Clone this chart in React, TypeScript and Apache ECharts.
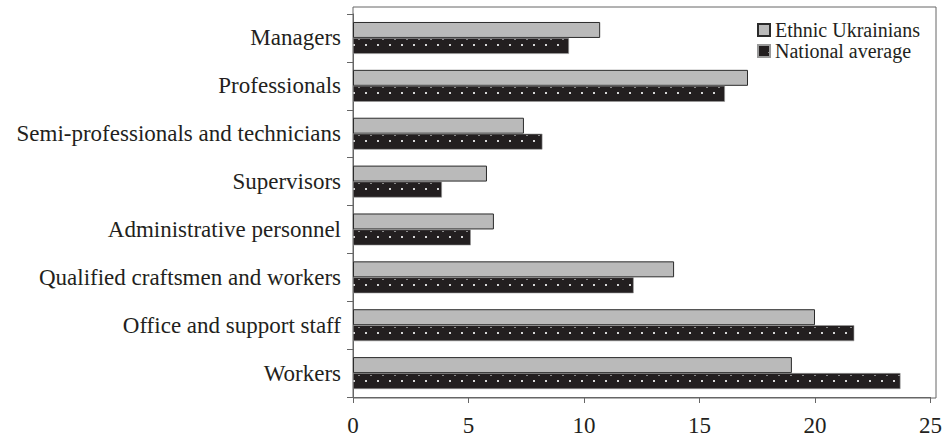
import React, { useEffect, useRef } from "react";
import * as echarts from "echarts";

const categories = [
  "Managers",
  "Professionals",
  "Semi-professionals and technicians",
  "Supervisors",
  "Administrative personnel",
  "Qualified craftsmen and workers",
  "Office and support staff",
  "Workers",
];
const seriesNames = ["Ethnic Ukrainians", "National average"];
const ethnicUkrainians = [10.7, 17.1, 7.4, 5.8, 6.1, 13.9, 20.0, 19.0];
const nationalAverage = [9.35, 16.1, 8.2, 3.85, 5.1, 12.15, 21.7, 23.7];
const xTicks = [0, 5, 10, 15, 20, 25];

const FONT = "'Liberation Serif', 'Times New Roman', serif";

function makeDots(): HTMLCanvasElement {
  const c = document.createElement("canvas");
  c.width = 12;
  c.height = 16;
  const ctx = c.getContext("2d")!;
  ctx.fillStyle = "#231f20";
  ctx.fillRect(0, 0, 12, 16);
  ctx.fillStyle = "#d6d6d6";
  ctx.fillRect(5, 12, 2, 2);
  ctx.fillStyle = "#8a8a8a";
  ctx.fillRect(10, 7, 2, 1);
  return c;
}

export default function App() {
  const ref = useRef<HTMLDivElement>(null);
  useEffect(() => {
    if (!ref.current) return;
    const chart = echarts.init(ref.current, null, { renderer: "svg" });
    const dots = makeDots();
    const pattern: any = {
      image: dots,
      repeat: "repeat",
      imageWidth: 12,
      imageHeight: 16,
    };
    chart.setOption({
      animation: false,
      backgroundColor: "#ffffff",
      grid: { left: 353, top: 14, width: 583, height: 384, containLabel: false },
      legend: {
        orient: "vertical",
        left: 757,
        top: 20,
        padding: 0,
        itemWidth: 12,
        itemHeight: 12,
        itemGap: 1,
        textStyle: { fontFamily: FONT, fontSize: 20, color: "#231f20", lineHeight: 20 },
        data: [
          { name: seriesNames[0], icon: "rect" },
          { name: seriesNames[1], icon: "rect" },
        ],
      },
      xAxis: {
        type: "value",
        min: xTicks[0],
        max: xTicks[xTicks.length - 1],
        interval: xTicks[1] - xTicks[0],
        splitLine: { show: false },
        axisLine: { show: true, lineStyle: { color: "#666", width: 1 } },
        axisTick: { show: true, inside: false, length: 6, lineStyle: { color: "#666" } },
        axisLabel: { fontFamily: FONT, fontSize: 23, color: "#231f20", margin: 17 },
      },
      yAxis: {
        type: "category",
        inverse: true,
        data: categories,
        axisLine: { show: true, lineStyle: { color: "#666", width: 1 } },
        axisTick: { show: true, inside: false, length: 6, lineStyle: { color: "#666" } },
        axisLabel: { fontFamily: FONT, fontSize: 23, color: "#231f20", margin: 12 },
      },
      graphic: [
        {
          type: "rect",
          shape: { x: 353, y: 7, width: 583, height: 391 },
          style: { fill: "none", stroke: "#666", lineWidth: 1 },
          silent: true,
          z: 0,
        },
      ],
      series: [
        {
          name: seriesNames[0],
          type: "bar",
          data: ethnicUkrainians,
          barCategoryGap: "33.33%",
          barGap: "0%",
          itemStyle: { color: "#bababa", borderColor: "#2b2b2b", borderWidth: 1 },
        },
        {
          name: seriesNames[1],
          type: "bar",
          data: nationalAverage,
          barCategoryGap: "33.33%",
          barGap: "0%",
          itemStyle: { color: pattern, borderColor: "#9a9a9a", borderWidth: 0.6 },
        },
      ],
    });
    return () => chart.dispose();
  }, []);
  return (
    <div
      ref={ref}
      style={{ position: "fixed", left: 0, top: 0, width: 945, height: 437, background: "#fff" }}
    />
  );
}
